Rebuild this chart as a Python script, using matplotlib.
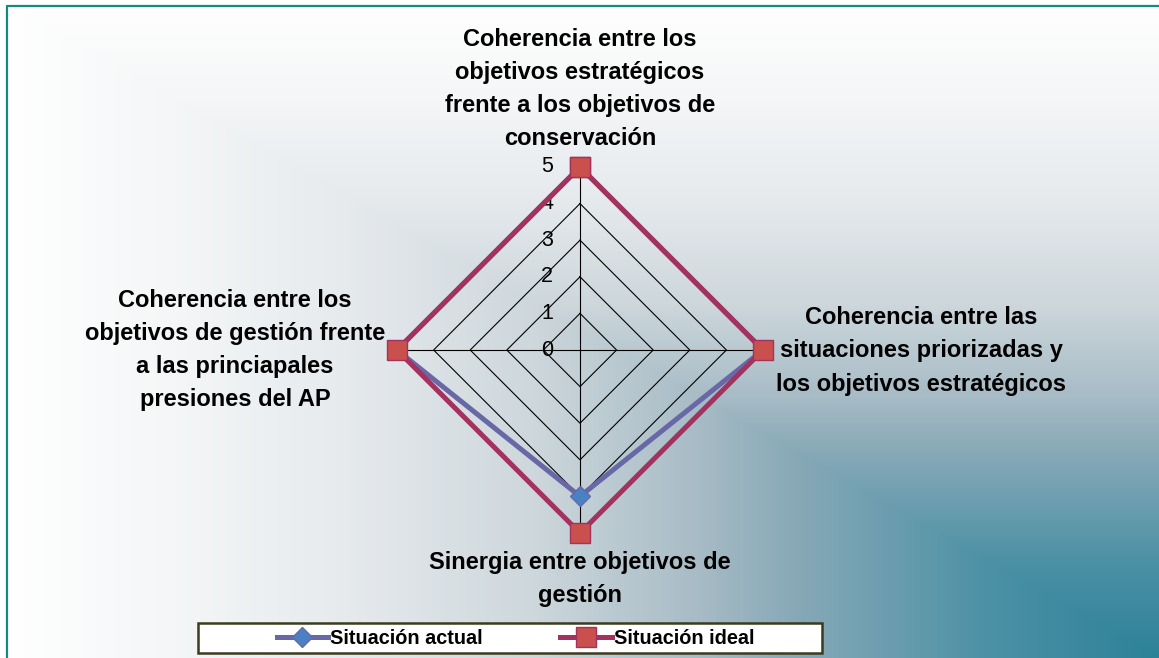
import numpy as np
import matplotlib
matplotlib.use("Agg")
from matplotlib import pyplot as plt
from matplotlib.colors import LinearSegmentedColormap
from matplotlib.lines import Line2D
from matplotlib.patches import Rectangle

W, H = 1159, 658

categories = [
    "Coherencia entre los\nobjetivos estratégicos\nfrente a los objetivos de\nconservación",
    "Coherencia entre las\nsituaciones priorizadas y\nlos objetivos estratégicos",
    "Sinergia entre objetivos de\ngestión",
    "Coherencia entre los\nobjetivos de gestión frente\na las princiapales\npresiones del AP",
]
actual = [5, 5, 4, 5]
ideal = [5, 5, 5, 5]
levels = [0, 1, 2, 3, 4, 5]
series_names = ["Situación actual", "Situación ideal"]

ACTUAL_LINE = "#6868a6"
ACTUAL_MARK = "#4a80c4"
IDEAL_LINE = "#a3325f"
IDEAL_MARK = "#c9504c"

plt.rcParams["font.family"] = ["Liberation Sans", "DejaVu Sans"]

fig = plt.figure(figsize=(W / 100, H / 100), dpi=100)

# background gradient from the bottom-right corner
bg = fig.add_axes([0, 0, 1, 1], zorder=0)
yy, xx = np.mgrid[0:H, 0:W]
t = np.maximum((W - xx) / W, (H - yy) / H)
cmap = LinearSegmentedColormap.from_list("bg", [
    (0.00, "#2d8298"), (0.15, "#4d91a6"), (0.32, "#8aaab8"), (0.40, "#a8bcc6"),
    (0.54, "#cdd7dc"), (0.70, "#e6eaed"), (0.85, "#f4f6f7"), (1.00, "#ffffff"),
])
bg.imshow(t, cmap=cmap, vmin=0, vmax=1, aspect="auto", extent=(0, W, H, 0))
bg.set_xlim(0, W)
bg.set_ylim(H, 0)
bg.axis("off")

# border (left and top only)
fig.lines.append(Line2D([6.5 / W, 6.5 / W, 1], [0, 1 - 5.5 / H, 1 - 5.5 / H],
                        transform=fig.transFigure, color="#138a80", lw=1.6))

# radar axes: centre at (580, 350) px, r=5 -> 183 px
cx, cy, rpx = 580, 350, 183
lim = 6.5
half = lim / 5 * rpx
ax = fig.add_axes([(cx - half) / W, (H - cy - half) / H, 2 * half / W, 2 * half / H], zorder=1)
ax.set_xlim(-lim, lim)
ax.set_ylim(-lim, lim)
ax.patch.set_alpha(0)
ax.axis("off")

n = len(categories)
angles = np.pi / 2 - 2 * np.pi * np.arange(n) / n

for lv in levels[1:]:
    xs = np.append(lv * np.cos(angles), lv * np.cos(angles[0]))
    ys = np.append(lv * np.sin(angles), lv * np.sin(angles[0]))
    ax.plot(xs, ys, color="black", lw=0.8, zorder=2)
for a in angles:
    ax.plot([0, levels[-1] * np.cos(a)], [0, levels[-1] * np.sin(a)], color="black", lw=0.8, zorder=2)
for lv in levels:
    ax.text(-0.9, lv, str(lv), ha="center", va="center", fontsize=15.5, zorder=3)

for vals, lc, mc, mk, ms, name in [
    (actual, ACTUAL_LINE, ACTUAL_MARK, "D", 10, series_names[0]),
    (ideal, IDEAL_LINE, IDEAL_MARK, "s", 14, series_names[1]),
]:
    v = np.array(vals + vals[:1], dtype=float)
    a = np.append(angles, angles[0])
    ax.plot(v * np.cos(a), v * np.sin(a), color=lc, lw=3.6, marker=mk, ms=ms,
            markerfacecolor=mc, markeredgecolor=lc, markeredgewidth=1.0, zorder=4,
            label=name)

# category labels
label_pos = [(580, 89), (921, 351), (580, 579), (235, 350)]
for txt, (px, py) in zip(categories, label_pos):
    fig.text(px / W, 1 - py / H, txt, ha="center", va="center", fontsize=17,
             fontweight="bold", linespacing=1.57, zorder=5)

# legend box
fig.patches.append(Rectangle((198 / W, 1 - 653 / H), 624 / W, 30 / H, transform=fig.transFigure,
                             facecolor="white", edgecolor="#3b3b1e", lw=1.8, zorder=5))
handles = [
    Line2D([], [], color=ACTUAL_LINE, lw=3.6, marker="D", ms=10, markerfacecolor=ACTUAL_MARK,
           markeredgecolor=ACTUAL_LINE),
    Line2D([], [], color=IDEAL_LINE, lw=3.6, marker="s", ms=14, markerfacecolor=IDEAL_MARK,
           markeredgecolor=IDEAL_LINE),
]
leg = fig.legend(handles, series_names, loc="center", bbox_to_anchor=(515.5 / W, 1 - 638 / H),
                 ncol=2, frameon=False, prop={"weight": "bold", "size": 14.3},
                 handlelength=2.6, handletextpad=0.1, columnspacing=3.9, borderpad=0)
leg.set_zorder(6)

fig.savefig("out.png", dpi=100)
